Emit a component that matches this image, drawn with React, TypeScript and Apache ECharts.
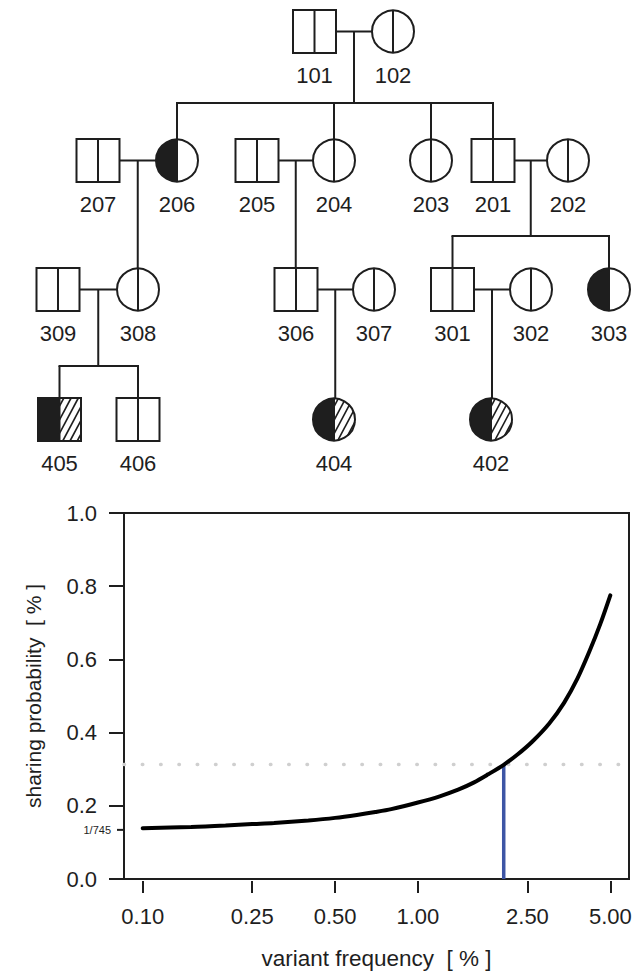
import React, { useEffect, useRef } from "react";
import * as echarts from "echarts";

// ---------------- data ----------------
// Curve: variant frequency [%] vs sharing probability [%]
const freqValues = [0.1, 0.15, 0.2, 0.25, 0.3, 0.4, 0.5, 0.6, 0.7, 0.8, 1.0, 1.2, 1.4, 1.6, 1.8, 2.05, 2.3, 2.6, 3.0, 3.4, 3.8, 4.2, 4.6, 5.0];
const probValues = [0.139, 0.142, 0.146, 0.150, 0.153, 0.160, 0.167, 0.175, 0.183, 0.191, 0.209, 0.226, 0.244, 0.264, 0.286, 0.312, 0.340, 0.375, 0.425, 0.482, 0.548, 0.622, 0.697, 0.775];
const xTickValues = [0.1, 0.25, 0.5, 1.0, 2.5, 5.0];
const yTickValues = [0, 0.2, 0.4, 0.6, 0.8, 1.0];
const baselineProb = 100 / 745; // 1/745 expressed in %
const baselineLabel = "1/745";
const thresholdProb = 0.3128;
const crossFreq = 2.05;

// Pedigree individuals: id, sex, phenotype ("none" | "half" | "halfHatch")
const individuals = [
  { id: "101", sex: "M", status: "none" },
  { id: "102", sex: "F", status: "none" },
  { id: "207", sex: "M", status: "none" },
  { id: "206", sex: "F", status: "half" },
  { id: "205", sex: "M", status: "none" },
  { id: "204", sex: "F", status: "none" },
  { id: "203", sex: "F", status: "none" },
  { id: "201", sex: "M", status: "none" },
  { id: "202", sex: "F", status: "none" },
  { id: "309", sex: "M", status: "none" },
  { id: "308", sex: "F", status: "none" },
  { id: "306", sex: "M", status: "none" },
  { id: "307", sex: "F", status: "none" },
  { id: "301", sex: "M", status: "none" },
  { id: "302", sex: "F", status: "none" },
  { id: "303", sex: "F", status: "half" },
  { id: "405", sex: "M", status: "halfHatch" },
  { id: "406", sex: "M", status: "none" },
  { id: "404", sex: "F", status: "halfHatch" },
  { id: "402", sex: "F", status: "halfHatch" },
];

// Families: [father, mother, children]
const families: [string, string, string[]][] = [
  ["101", "102", ["206", "204", "203", "201"]],
  ["207", "206", ["308"]],
  ["205", "204", ["306"]],
  ["201", "202", ["301", "303"]],
  ["309", "308", ["405", "406"]],
  ["306", "307", ["404"]],
  ["301", "302", ["402"]],
];

// ---------------- layout (pixels) ----------------
const rowY = [31.5, 160.5, 289.5, 419.5];
const layoutX: Record<string, [number, number]> = {
  "101": [314.5, 0], "102": [393, 0],
  "207": [98, 1], "206": [177, 1], "205": [257, 1], "204": [334, 1], "203": [431, 1], "201": [493, 1], "202": [568, 1],
  "309": [58, 2], "308": [138, 2], "306": [296, 2], "307": [374, 2], "301": [452.5, 2], "302": [531, 2], "303": [609, 2],
  "405": [59.5, 3], "406": [138, 3], "404": [334, 3], "402": [491, 3],
};
const sibshipY: Record<string, number> = { "101": 103, "201": 236, "309": 366 };
const HALF = 21.5;
const R = 21;
const LABEL_DY = 43.5;
const INK = "#1e1e1e";
const FONT = "'Liberation Sans', Arial, Helvetica, sans-serif";
const LABEL_SIZE = 22;
const TICK_SIZE = 22;

function hatch(poly: number[][], angleDeg: number, spacing: number) {
  const a = (angleDeg * Math.PI) / 180;
  const nx = Math.sin(a), ny = Math.cos(a);
  const proj = poly.map((p) => p[0] * nx + p[1] * ny);
  const cmin = Math.min(...proj), cmax = Math.max(...proj);
  const segs: number[][][] = [];
  for (let c = cmin + spacing * 0.6; c < cmax; c += spacing) {
    const pts: number[][] = [];
    for (let i = 0; i < poly.length; i++) {
      const j = (i + 1) % poly.length;
      const dp = proj[i] - c, dq = proj[j] - c;
      if ((dp <= 0 && dq > 0) || (dp > 0 && dq <= 0)) {
        const t = dp / (dp - dq);
        pts.push([poly[i][0] + t * (poly[j][0] - poly[i][0]), poly[i][1] + t * (poly[j][1] - poly[i][1])]);
      }
    }
    if (pts.length >= 2) segs.push([pts[0], pts[1]]);
  }
  return segs;
}

function buildPedigree() {
  const els: any[] = [];
  const line = (x1: number, y1: number, x2: number, y2: number, z = 9, w = 2) =>
    els.push({ type: "line", z, shape: { x1, y1, x2, y2 }, style: { stroke: INK, lineWidth: w } });
  const info: Record<string, { cx: number; cy: number; sex: string; status: string }> = {};
  individuals.forEach((ind) => {
    const [cx, row] = layoutX[ind.id];
    info[ind.id] = { cx, cy: rowY[row], sex: ind.sex, status: ind.status };
  });
  const halfW = (id: string) => (info[id].sex === "M" ? HALF : R);
  const topOf = (id: string) => info[id].cy - (info[id].sex === "M" ? HALF : R);

  families.forEach(([fa, mo, kids]) => {
    const a = info[fa], b = info[mo];
    const left = a.cx < b.cx ? fa : mo;
    const right = left === fa ? mo : fa;
    const x1 = info[left].cx + halfW(left);
    const x2 = info[right].cx - halfW(right);
    const y = a.cy;
    line(x1, y, x2, y);
    const mx = (x1 + x2) / 2;
    if (kids.length === 1) {
      line(mx, y, mx, topOf(kids[0]));
    } else {
      const sy = sibshipY[fa];
      line(mx, y, mx, sy);
      const xs = kids.map((k) => info[k].cx);
      line(Math.min(...xs) - 1, sy, Math.max(...xs) + 1, sy);
      kids.forEach((k) => line(info[k].cx, sy, info[k].cx, topOf(k)));
    }
  });

  individuals.forEach((ind) => {
    const { cx, cy, sex, status } = info[ind.id];
    if (sex === "M") {
      els.push({ type: "rect", z: 10, shape: { x: cx - HALF, y: cy - HALF, width: 2 * HALF, height: 2 * HALF }, style: { fill: "#fff" } });
      if (status !== "none") {
        els.push({ type: "rect", z: 11, shape: { x: cx - HALF, y: cy - HALF, width: HALF, height: 2 * HALF }, style: { fill: INK } });
      }
      if (status === "halfHatch") {
        const poly = [[cx, cy - HALF], [cx + HALF, cy - HALF], [cx + HALF, cy + HALF], [cx, cy + HALF]];
        hatch(poly, 62, 6.4).forEach((s) =>
          els.push({ type: "line", z: 12, shape: { x1: s[0][0], y1: s[0][1], x2: s[1][0], y2: s[1][1] }, style: { stroke: INK, lineWidth: 1.6 } })
        );
      }
      els.push({ type: "rect", z: 13, shape: { x: cx - HALF, y: cy - HALF, width: 2 * HALF, height: 2 * HALF }, style: { fill: "none", stroke: INK, lineWidth: 2 } });
      line(cx, cy - HALF, cx, cy + HALF, 14);
    } else {
      els.push({ type: "circle", z: 10, shape: { cx, cy, r: R }, style: { fill: "#fff" } });
      if (status !== "none") {
        els.push({ type: "sector", z: 11, shape: { cx, cy, r: R, r0: 0, startAngle: Math.PI / 2, endAngle: (3 * Math.PI) / 2, clockwise: true }, style: { fill: INK } });
      }
      if (status === "halfHatch") {
        const poly: number[][] = [];
        const n = 40;
        for (let i = 0; i <= n; i++) {
          const ang = -Math.PI / 2 + (Math.PI * i) / n;
          poly.push([cx + R * Math.cos(ang), cy + R * Math.sin(ang)]);
        }
        hatch(poly, 62, 6.4).forEach((s) =>
          els.push({ type: "line", z: 12, shape: { x1: s[0][0], y1: s[0][1], x2: s[1][0], y2: s[1][1] }, style: { stroke: INK, lineWidth: 1.6 } })
        );
      }
      els.push({ type: "circle", z: 13, shape: { cx, cy, r: R }, style: { fill: "none", stroke: INK, lineWidth: 2 } });
      line(cx, cy - R, cx, cy + R, 14);
    }
    els.push({
      type: "text",
      z: 15,
      x: cx,
      y: cy + LABEL_DY,
      style: { text: ind.id, align: "center", verticalAlign: "middle", fontSize: LABEL_SIZE, fontFamily: FONT, fill: INK },
    });
  });
  return els;
}

export default function App() {
  const ref = useRef<HTMLDivElement>(null);
  useEffect(() => {
    if (!ref.current) return;
    const chart = echarts.init(ref.current, undefined, { renderer: "svg" });
    const lg = (v: number) => Math.log10(v);
    const tickSpan = lg(xTickValues[xTickValues.length - 1]) - lg(xTickValues[0]);
    const xMin = lg(xTickValues[0]) - 0.04 * tickSpan;
    const xMax = lg(xTickValues[xTickValues.length - 1]) + 0.04 * tickSpan;
    const xTickLogs = xTickValues.map(lg);
    const curve = freqValues.map((f, i) => [lg(f), probValues[i]]);
    const pedigree = buildPedigree();

    chart.setOption({
      animation: false,
      grid: { left: 124, right: 13, top: 513, bottom: 92, show: true, borderColor: INK, borderWidth: 2, backgroundColor: "transparent" },
      xAxis: {
        type: "value",
        min: xMin,
        max: xMax,
        offset: 2,
        axisLine: { show: false, onZero: false },
        splitLine: { show: false },
        axisTick: { show: true, customValues: xTickLogs, length: 12, lineStyle: { color: INK, width: 2 } },
        axisLabel: {
          customValues: xTickLogs,
          formatter: (v: number) => Math.pow(10, v).toFixed(2),
          fontSize: TICK_SIZE,
          fontFamily: FONT,
          color: INK,
          margin: 24,
        },
        name: "variant frequency  [ % ]",
        nameLocation: "middle",
        nameGap: 66,
        nameTextStyle: { fontSize: 22.5, fontFamily: FONT, color: INK },
      },
      yAxis: {
        type: "value",
        min: yTickValues[0],
        max: yTickValues[yTickValues.length - 1],
        interval: 0.2,
        axisLine: { show: true, onZero: false, lineStyle: { color: INK, width: 2 } },
        splitLine: { show: false },
        axisTick: { show: true, length: 15, lineStyle: { color: INK, width: 2 } },
        axisLabel: { formatter: (v: number) => v.toFixed(1), fontSize: TICK_SIZE, fontFamily: FONT, color: INK, margin: 27 },
        name: "sharing probability  [ % ]",
        nameLocation: "middle",
        nameGap: 80,
        nameTextStyle: { fontSize: 21, fontFamily: FONT, color: INK },
      },
      series: [
        {
          type: "line",
          data: [[xMin, thresholdProb], [xMax, thresholdProb]],
          symbol: "none",
          lineStyle: { color: "#cfcfcf", width: 3.5, type: [0.5, 17.8], cap: "round" },
          silent: true,
          z: 1,
        },
        {
          type: "line",
          data: [[lg(crossFreq), 0], [lg(crossFreq), thresholdProb]],
          symbol: "none",
          lineStyle: { color: "#3d55a5", width: 3.5 },
          silent: true,
          z: 2,
        },
        {
          type: "line",
          data: curve,
          symbol: "none",
          smooth: 0.3,
          lineStyle: { color: "#000", width: 4, cap: "round" },
          silent: true,
          z: 3,
        },
      ],
      graphic: pedigree,
    });

    // baseline tick (1/745) placed through the axis scale
    const axisX = chart.convertToPixel({ xAxisIndex: 0 }, xMin) as number;
    const baseY = chart.convertToPixel({ yAxisIndex: 0 }, baselineProb) as number;
    chart.setOption({
      graphic: [
        ...pedigree,
        { type: "line", z: 20, shape: { x1: axisX - 7, y1: baseY, x2: axisX, y2: baseY }, style: { stroke: INK, lineWidth: 2 } },
        {
          type: "text",
          z: 20,
          x: axisX - 13,
          y: baseY,
          style: { text: baselineLabel, align: "right", verticalAlign: "middle", fontSize: 11, fontFamily: FONT, fill: INK },
        },
      ],
    });
    return () => chart.dispose();
  }, []);
  return <div ref={ref} style={{ position: "fixed", left: 0, top: 0, width: 642, height: 971, background: "#fff" }} />;
}
